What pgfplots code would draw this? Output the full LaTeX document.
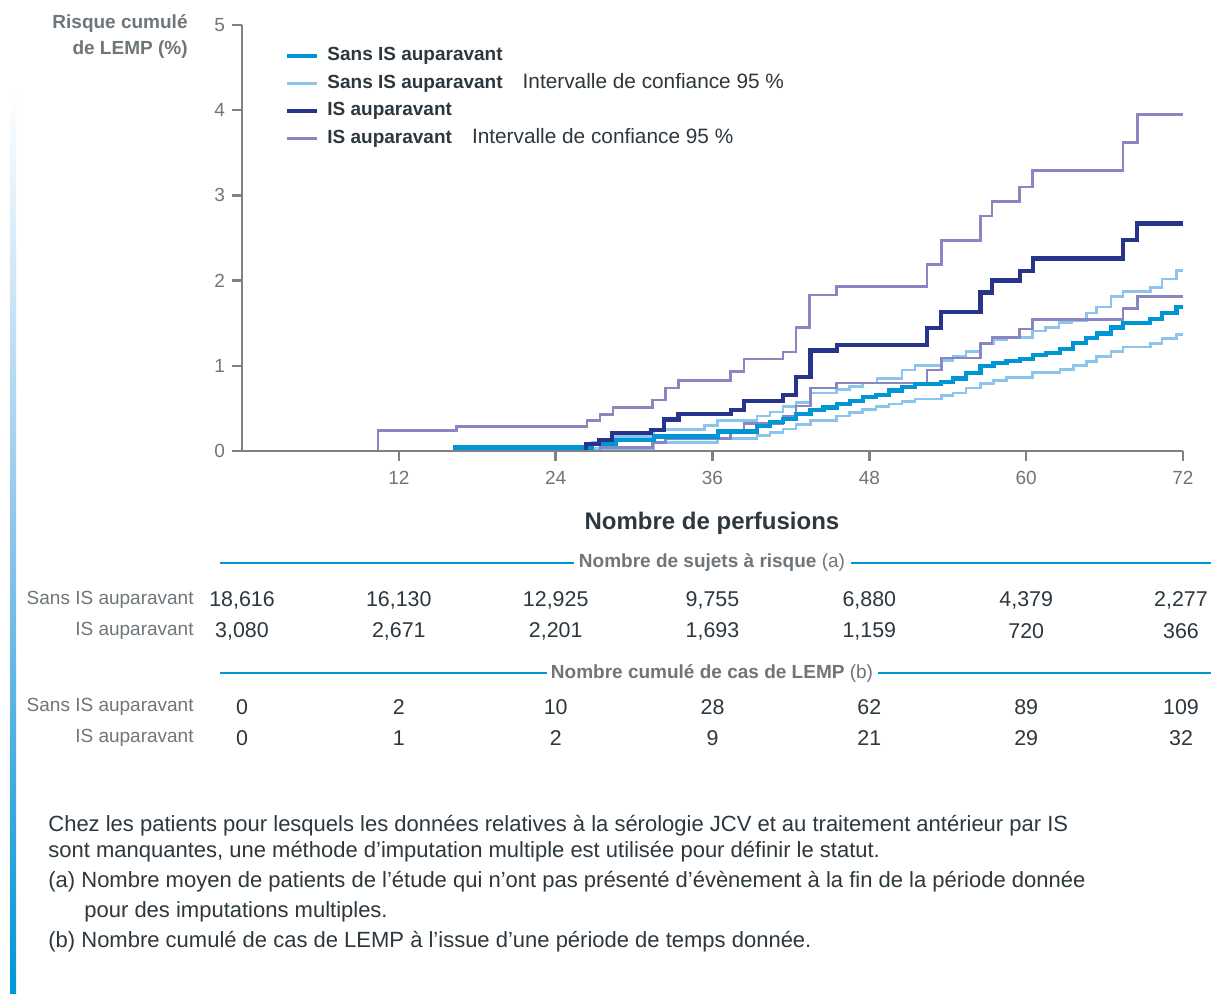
\documentclass[border=0pt]{standalone}
\usepackage{fontspec}
\setmainfont{Liberation Sans}
\usepackage{pgfplots}
\pgfplotsset{compat=1.18}
\definecolor{cMain}{RGB}{0,150,214}
\definecolor{cLight}{RGB}{140,196,236}
\definecolor{cDark}{RGB}{39,52,139}
\definecolor{cPurple}{RGB}{138,134,194}
\definecolor{tDark}{RGB}{45,55,62}
\definecolor{tGray}{RGB}{110,118,123}
\definecolor{aGray}{RGB}{125,130,134}
\newcommand{\tk}{\fontsize{9.5pt}{11.4pt}\selectfont}
\newcommand{\nm}{\fontsize{10.7pt}{12.6pt}\selectfont}
\newcommand{\rg}{\fontsize{10.4pt}{12pt}\selectfont}
\newcommand{\fn}{\fontsize{11pt}{13pt}\selectfont}
\begin{document}
\begin{tikzpicture}
\useasboundingbox (0,0) rectangle (605.5pt,-497pt);
\fill[white] (0,0) rectangle (605.5pt,-497pt);
\begin{axis}[
  at={(121pt,-225.5pt)}, anchor=south west,
  scale only axis, width=470.5pt, height=213pt,
  xmin=0, xmax=72, ymin=0, ymax=5,
  axis x line*=bottom, axis y line*=left,
  axis line style={aGray, line width=1.2pt},
  xtick={12,24,36,48,60,72}, ytick={0,1,2,3,4,5},
  tick align=outside, major tick length=5pt,
  tick style={aGray, line width=1.2pt},
  tick label style={font=\tk, text=tGray},
  xticklabel style={yshift=-1.5pt},
  /pgf/number format/assume math mode=true,
  axis on top, clip=false,
  legend cell align=left,
  legend image code/.code={\draw[#1] (0pt,0pt) -- (15pt,0pt);},
  legend style={draw=none, fill=none, at={(0.0457,0.950)}, anchor=north west,
    font=\tk, text=tDark, inner sep=0pt, row sep=4.75pt,
    nodes={inner sep=0pt, text height=7pt, text depth=2pt}},
]
% Sans IS - upper CI
\addplot[cLight, line width=1.3pt, const plot, forget plot] coordinates {
(16.3,0) (16.3,0.06) (26.8,0.10) (28.4,0.17) (31.5,0.25) (35.4,0.30) (36.4,0.36)
(39.4,0.41) (40.4,0.46) (41.4,0.52) (42.4,0.57) (43.5,0.68) (45.5,0.72) (46.5,0.76)
(47.5,0.80) (48.6,0.85) (50.5,0.95) (51.5,1.00) (53.5,1.06) (54.4,1.11) (55.4,1.17)
(56.5,1.26) (57.5,1.31) (58.5,1.33) (60.5,1.41) (61.5,1.45) (62.5,1.51) (63.5,1.53)
(64.6,1.62) (65.4,1.69) (66.5,1.81) (67.4,1.87) (69.5,1.92) (70.4,2.02) (71.5,2.12) (72,2.12)};
% Sans IS - lower CI
\addplot[cLight, line width=1.3pt, const plot, forget plot] coordinates {
(26.8,0) (26.8,0.03) (31.5,0.10) (36.4,0.15) (39.4,0.18) (40.4,0.22) (41.4,0.26)
(42.4,0.31) (43.5,0.36) (45.5,0.41) (46.5,0.45) (47.5,0.49) (48.5,0.52) (49.5,0.55)
(50.5,0.58) (51.5,0.61) (53.5,0.65) (54.4,0.68) (55.4,0.74) (56.5,0.79) (57.5,0.83)
(58.5,0.86) (60.5,0.92) (62.6,0.96) (63.6,1.00) (64.6,1.05) (65.4,1.11) (66.5,1.17)
(67.4,1.22) (69.5,1.26) (70.4,1.32) (71.5,1.37) (72,1.37)};
% IS - upper CI
\addplot[cPurple, line width=1.3pt, const plot, forget plot] coordinates {
(10.4,0) (10.4,0.24) (16.4,0.29) (26.4,0.36) (27.4,0.43) (28.4,0.51) (31.4,0.60)
(32.4,0.74) (33.4,0.83) (37.4,0.93) (38.4,1.08) (41.4,1.16) (42.4,1.45) (43.4,1.83)
(45.5,1.93) (52.4,2.19) (53.5,2.47) (56.5,2.76) (57.4,2.93) (59.5,3.10) (60.5,3.29)
(67.4,3.62) (68.5,3.95) (72,3.95)};
% IS - lower CI
\addplot[cPurple, line width=1.3pt, const plot, forget plot] coordinates {
(27.4,0) (27.4,0.04) (31.4,0.10) (32.4,0.15) (37.4,0.21) (38.4,0.32) (41.4,0.41)
(42.4,0.53) (43.5,0.74) (45.5,0.80) (52.4,0.95) (53.5,1.09) (56.5,1.26) (57.4,1.33)
(59.5,1.43) (60.5,1.54) (67.4,1.67) (68.5,1.81) (72,1.81)};
% Sans IS - estimate
\addplot[cMain, line width=2.1pt, const plot, forget plot] coordinates {
(16.3,0) (16.3,0.04) (26.8,0.08) (28.6,0.13) (31.5,0.17) (36.4,0.23) (39.4,0.29)
(40.4,0.34) (41.4,0.38) (42.4,0.43) (43.5,0.48) (44.5,0.51) (45.5,0.55) (46.5,0.59)
(47.5,0.63) (48.5,0.66) (49.5,0.71) (50.5,0.75) (51.5,0.79) (53.5,0.81) (54.4,0.85)
(55.4,0.92) (56.5,1.00) (57.5,1.03) (58.5,1.06) (59.5,1.08) (60.5,1.13) (61.5,1.15)
(62.6,1.20) (63.6,1.27) (64.6,1.33) (65.4,1.38) (66.5,1.45) (67.4,1.50) (69.5,1.55)
(70.4,1.62) (71.5,1.69) (72,1.69)};
% IS - estimate
\addplot[cDark, line width=2.1pt, const plot, forget plot] coordinates {
(26.3,0) (26.3,0.08) (27.3,0.13) (28.3,0.21) (31.3,0.25) (32.3,0.37) (33.4,0.43)
(37.4,0.48) (38.4,0.59) (41.4,0.66) (42.4,0.87) (43.5,1.18) (45.5,1.24) (52.4,1.44)
(53.5,1.63) (56.5,1.86) (57.4,2.00) (59.5,2.11) (60.5,2.26) (67.4,2.48) (68.5,2.67) (72,2.67)};
\addlegendimage{cMain, line width=2pt}
\addlegendentry{\hspace{4pt}\textbf{Sans IS auparavant}}
\addlegendimage{cLight, line width=1.3pt}
\addlegendentry{\hspace{4pt}\textbf{Sans IS auparavant}\hspace{10pt}{\rg Intervalle de confiance 95~\%}}
\addlegendimage{cDark, line width=2pt}
\addlegendentry{\hspace{4pt}\textbf{IS auparavant}}
\addlegendimage{cPurple, line width=1.3pt}
\addlegendentry{\hspace{4pt}\textbf{IS auparavant}\hspace{10pt}{\rg Intervalle de confiance 95~\%}}
\end{axis}
\begin{scope}[x=0.5pt,y=-0.5pt]
\shade[top color=white, bottom color=cMain, middle color=cLight] (10,90) rectangle (16,994);
\node[anchor=east, font=\tk\bfseries, text=tGray, inner sep=0pt] at (188,24) {Risque cumulé};
\node[anchor=east, font=\tk\bfseries, text=tGray, inner sep=0pt] at (188,50) {de LEMP (\%)};
\node[font=\fontsize{12pt}{14pt}\selectfont\bfseries, text=tDark] at (712,523) {Nombre de perfusions};
% section 1
\draw[cMain, line width=1pt] (220,563) -- (574,563);
\draw[cMain, line width=1pt] (851,563) -- (1211,563);
\node[font=\tk, text=tGray] at (712,563) {\textbf{Nombre de sujets à risque} (a)};
\draw[cMain, line width=1pt] (220,673) -- (547,673);
\draw[cMain, line width=1pt] (878,673) -- (1211,673);
\node[font=\tk, text=tGray] at (712,673) {\textbf{Nombre cumulé de cas de LEMP} (b)};
\foreach \yy/\lab in {600/Sans IS auparavant, 631/IS auparavant, 707/Sans IS auparavant, 738/IS auparavant}
  \node[anchor=east, font=\tk, text=tGray, inner sep=0pt] at (194,\yy) {\lab};
\foreach \xx/\a/\b/\c/\d in {242/18{,}616/3{,}080/0/0, 398.8/16{,}130/2{,}671/2/1, 555.7/12{,}925/2{,}201/10/2,
  712.5/9{,}755/1{,}693/28/9, 869.3/6{,}880/1{,}159/62/21, 1026.2/4{,}379/720/89/29, 1181/2{,}277/366/109/32}{
  \node[font=\nm, text=tDark] at (\xx,600) {\a};
  \node[font=\nm, text=tDark] at (\xx,631) {\b};
  \node[font=\nm, text=tDark] at (\xx,707) {\c};
  \node[font=\nm, text=tDark] at (\xx,738) {\d};
}
% footnotes
\node[anchor=west, font=\fn, text=tDark, inner sep=0pt] at (48,826) {Chez les patients pour lesquels les données relatives à la sérologie JCV et au traitement antérieur par IS};
\node[anchor=west, font=\fn, text=tDark, inner sep=0pt] at (48,852) {sont manquantes, une méthode d’imputation multiple est utilisée pour définir le statut.};
\node[anchor=west, font=\fn, text=tDark, inner sep=0pt] at (48,882) {(a) Nombre moyen de patients de l’étude qui n’ont pas présenté d’évènement à la fin de la période donnée};
\node[anchor=west, font=\fn, text=tDark, inner sep=0pt] at (84,912) {pour des imputations multiples.};
\node[anchor=west, font=\fn, text=tDark, inner sep=0pt] at (48,942) {(b) Nombre cumulé de cas de LEMP à l’issue d’une période de temps donnée.};
\end{scope}
\end{tikzpicture}
\end{document}
